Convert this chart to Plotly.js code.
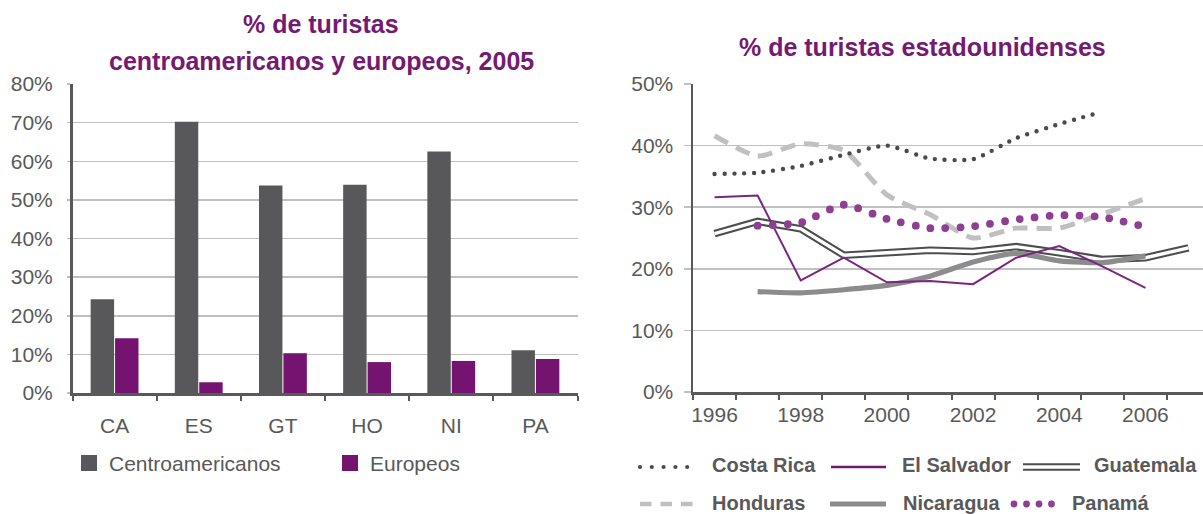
<!DOCTYPE html>
<html>
<head>
<meta charset="utf-8">
<script src="https://cdn.plot.ly/plotly-3.0.1.min.js"></script>
<style>
html,body{margin:0;padding:0;background:#ffffff;}
#chart{width:1203px;height:514px;}
</style>
</head>
<body>
<div id="chart"></div>
<script>
// ---- data: left chart (2005) ----
const barCategories = ['CA', 'ES', 'GT', 'HO', 'NI', 'PA'];
const centroamericanos = [24.3, 70.2, 53.7, 53.9, 62.5, 11.1];
const europeos = [14.2, 2.8, 10.3, 8.0, 8.3, 8.8];

// ---- data: right chart (% US tourists) ----
const years = [1996, 1997, 1998, 1999, 2000, 2001, 2002, 2003, 2004, 2005, 2006, 2007];
const costaRica  = [35.4, 35.6, 36.7, 38.5, 40.0, 37.9, 37.8, 41.2, 43.5, 45.5, null, null];
const elSalvador = [31.6, 31.9, 18.1, 21.8, 17.8, 18.0, 17.5, 21.8, 23.7, 20.4, 16.9, null];
const guatemala  = [25.7, 27.7, 26.5, 22.2, 22.6, 23.0, 22.8, 23.6, 22.6, 21.5, 21.8, 23.4];
const honduras   = [41.6, 38.3, 40.3, 39.2, 32.0, 28.8, 25.0, 26.6, 26.6, 28.9, 31.4, null];
const nicaragua  = [null, 16.3, 16.1, 16.6, 17.3, 18.8, 21.1, 22.5, 21.3, 21.0, 22.1, null];
const panama     = [null, 27.0, 27.5, 30.4, 28.1, 26.6, 26.9, 28.0, 28.7, 28.4, 26.8, null];
const yearTickLabels = ['1996', '1998', '2000', '2002', '2004', '2006'];

// ---- styling ----
const FONT = 'Liberation Sans, Arial, sans-serif';
const TXT = '#595959';
const TITLE = '#751a71';
const GRID = '#c0c0c0';
const AXIS = '#595959';
const W = 1203, H = 514;
const px = x => x / W;
const py = y => (H - y) / H;

const C_DARK = '#58585a', C_PURPLE = '#741470';
const C_CR = '#4a4a4a', C_ES = '#7b2581', C_GT = '#4d4d4d', C_HO = '#c0c0c2', C_NI = '#8c8c8e', C_PA = '#8e3f92';

const traces = [
  {type: 'bar', x: barCategories, y: centroamericanos, name: 'Centroamericanos',
   marker: {color: C_DARK}, xaxis: 'x', yaxis: 'y', hoverinfo: 'skip'},
  {type: 'bar', x: barCategories, y: europeos, name: 'Europeos',
   marker: {color: C_PURPLE}, xaxis: 'x', yaxis: 'y', hoverinfo: 'skip'},

  {type: 'scatter', mode: 'lines', x: years, y: guatemala, name: 'Guatemala',
   line: {color: C_GT, width: 7.5}, xaxis: 'x2', yaxis: 'y2'},
  {type: 'scatter', mode: 'lines', x: years, y: guatemala, name: 'Guatemala inner',
   line: {color: '#ffffff', width: 3.4}, xaxis: 'x2', yaxis: 'y2'},
  {type: 'scatter', mode: 'lines', x: years, y: nicaragua, name: 'Nicaragua',
   line: {color: C_NI, width: 5.2, shape: 'spline', smoothing: 0.6}, xaxis: 'x2', yaxis: 'y2'},
  {type: 'scatter', mode: 'lines', x: years, y: honduras, name: 'Honduras',
   line: {color: C_HO, width: 5, dash: '15px,9px', shape: 'spline', smoothing: 0.6}, xaxis: 'x2', yaxis: 'y2'},
  {type: 'scatter', mode: 'lines', x: years, y: elSalvador, name: 'El Salvador',
   line: {color: C_ES, width: 2}, xaxis: 'x2', yaxis: 'y2'},
  {type: 'scatter', mode: 'lines', x: years, y: costaRica, name: 'Costa Rica', meta: 'round',
   line: {color: C_CR, width: 4.4, dash: '0px,9.8px', shape: 'spline', smoothing: 0.6}, xaxis: 'x2', yaxis: 'y2'},
  {type: 'scatter', mode: 'lines', x: years, y: panama, name: 'Panamá', meta: 'round',
   line: {color: C_PA, width: 7.8, dash: '0px,15px', shape: 'spline', smoothing: 0.6}, xaxis: 'x2', yaxis: 'y2'}
];

// category boundaries for the year axis ticks
const yearBounds = years.map(y => y - 0.5).concat([years[years.length - 1] + 0.5]);

const tickFont = {family: FONT, size: 21, color: TXT};
const titleFont = {family: FONT, size: 25, color: TITLE, weight: 'bold'};
const legFont = {family: FONT, size: 21, color: TXT};
const legFontB = {family: FONT, size: 20, color: TXT, weight: 'bold'};

function ann(text, x, y, font, xanchor) {
  return {text: text, xref: 'paper', yref: 'paper', x: px(x), y: py(y),
          xanchor: xanchor || 'center', yanchor: 'middle', showarrow: false, font: font};
}

const annotations = [
  ann('% de turistas', 321, 24, titleFont),
  ann('centroamericanos y europeos, 2005', 321, 61, titleFont),
  ann('% de turistas estadounidenses', 922.5, 47, titleFont),
  ann('Centroamericanos', 106.5, 463, legFont, 'left'),
  ann('Europeos', 368, 463, legFont, 'left'),
  ann('Costa Rica', 710, 465, legFontB, 'left'),
  ann('El Salvador', 900, 465, legFontB, 'left'),
  ann('Guatemala', 1092, 465, legFontB, 'left'),
  ann('Honduras', 710, 503, legFontB, 'left'),
  ann('Nicaragua', 901, 503, legFontB, 'left'),
  ann('Panamá', 1070, 503, legFontB, 'left')
];

function hline(x0, x1, y, line) {
  return {type: 'line', xref: 'paper', yref: 'paper', x0: px(x0), x1: px(x1), y0: py(y), y1: py(y), line: line};
}
function box(x0, x1, y0, y1, color) {
  return {type: 'rect', xref: 'paper', yref: 'paper', x0: px(x0), x1: px(x1), y0: py(y1), y1: py(y0),
          fillcolor: color, line: {width: 0}};
}

const shapes = [
  box(81, 97, 455, 471, C_DARK),
  box(342, 358, 455, 471, C_PURPLE),
  hline(640, 699, 467, {color: C_CR, width: 4.2, dash: '0px,11.8px'}),      // 2 round
  hline(831, 886, 467, {color: '#6f1a72', width: 2.4}),
  hline(1023, 1080, 467, {color: C_GT, width: 7.5}),
  hline(1023, 1080, 467, {color: '#ffffff', width: 3.4}),
  hline(640, 694, 504, {color: C_HO, width: 4.5, dash: '11.5px,9px'}),
  hline(830, 886, 504, {color: C_NI, width: 5}),
  hline(1014, 1064, 504, {color: C_PA, width: 6.8, dash: '0px,12.5px'})    // 8 round
];
const roundShapes = [2, 8];

const layout = {
  width: W, height: H,
  margin: {l: 0, r: 0, t: 0, b: 0},
  paper_bgcolor: '#ffffff', plot_bgcolor: 'rgba(0,0,0,0)',
  showlegend: false,
  barmode: 'group', bargap: 0.42, bargroupgap: 0.04,
  font: {family: FONT, color: TXT},
  xaxis: {
    domain: [px(72.5), px(577.5)], anchor: 'y', type: 'category',
    tickson: 'boundaries', ticks: 'outside', ticklen: 5, tickwidth: 2, tickcolor: AXIS,
    showline: true, linecolor: AXIS, linewidth: 2.5, showgrid: false, zeroline: false,
    tickfont: tickFont, ticklabelstandoff: 12, fixedrange: true
  },
  yaxis: {
    domain: [py(393), py(84)], anchor: 'x', range: [0, 80], dtick: 10, ticksuffix: '%',
    showgrid: true, gridcolor: GRID, gridwidth: 1.5, zeroline: false,
    showline: true, linecolor: AXIS, linewidth: 2.5,
    ticks: 'outside', ticklen: 3, tickcolor: GRID, tickwidth: 1.5,
    tickfont: tickFont, ticklabelstandoff: 10, fixedrange: true
  },
  xaxis2: {
    domain: [px(693), 1], anchor: 'y2', range: [1995.5, 2007.336],
    tickmode: 'array', tickvals: yearTickLabels.map(Number), ticktext: yearTickLabels,
    ticks: '', showgrid: false, zeroline: false,
    minor: {tickmode: 'array', tickvals: yearBounds, ticks: 'outside', ticklen: 5, tickwidth: 2, tickcolor: AXIS, showgrid: false},
    showline: true, linecolor: AXIS, linewidth: 2.5,
    tickfont: tickFont, ticklabelstandoff: 2, fixedrange: true
  },
  yaxis2: {
    domain: [py(392), py(84)], anchor: 'x2', range: [0, 50], dtick: 10, ticksuffix: '%',
    showgrid: true, gridcolor: GRID, gridwidth: 1.5, zeroline: false,
    showline: true, linecolor: AXIS, linewidth: 2.5,
    ticks: 'outside', ticklen: 7, tickcolor: GRID, tickwidth: 1.5,
    tickfont: tickFont, ticklabelstandoff: 6, fixedrange: true
  },
  annotations: annotations,
  shapes: shapes
};

function roundCaps(gd) {
  gd.querySelectorAll('.scatterlayer .trace').forEach(function (g) {
    const cd = g.__data__;
    const tr = cd && cd[0] && cd[0].trace;
    if (tr && tr.meta === 'round') {
      g.querySelectorAll('path.js-line').forEach(function (p) { p.style.strokeLinecap = 'round'; });
    }
  });
  roundShapes.forEach(function (i) {
    gd.querySelectorAll('.shapelayer path[data-index="' + i + '"]').forEach(function (p) {
      p.style.strokeLinecap = 'round';
    });
  });
}

Plotly.newPlot('chart', traces, layout, {staticPlot: true, displayModeBar: false}).then(roundCaps);
</script>
</body>
</html>
